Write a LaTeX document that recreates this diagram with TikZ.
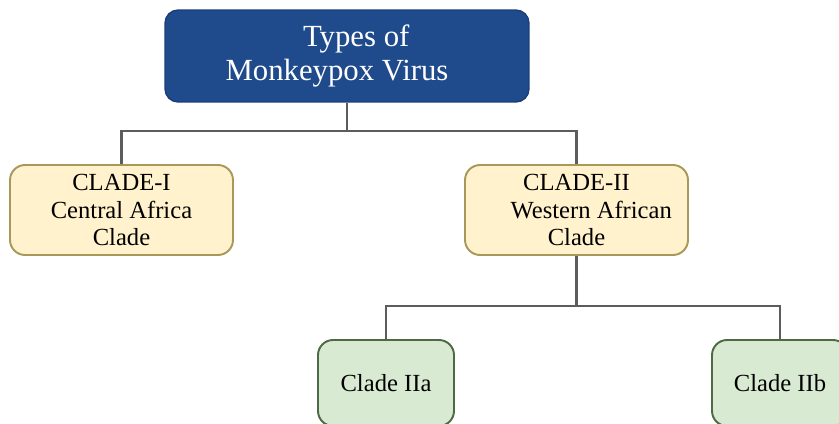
\documentclass[tikz,border=0pt]{standalone}
\usepackage{fontspec}
\setmainfont{Liberation Serif}
\usetikzlibrary{positioning}

\definecolor{topblue}{HTML}{1F4A8C}
\definecolor{topedge}{HTML}{1A3F78}
\definecolor{cladefill}{HTML}{FFF2CC}
\definecolor{cladeedge}{HTML}{A8985A}
\definecolor{subfill}{HTML}{D9EAD3}
\definecolor{subedge}{HTML}{4E6A45}
\definecolor{linkgray}{HTML}{5C5C5C}

\begin{document}
\begin{tikzpicture}[
    x=0.02cm, y=-0.02cm,
    root/.style={rectangle, draw=topedge, fill=topblue, text=white, line width=0.8pt, minimum width=7.28cm, minimum height=1.84cm, rounded corners=0.26cm, align=center, font=\fontsize{17.5}{19.8}\selectfont},
    clade/.style={rectangle, draw=cladeedge, fill=cladefill, line width=1.1pt, minimum width=4.46cm, minimum height=1.8cm, rounded corners=0.3cm, align=center, font=\fontsize{14}{15.6}\selectfont},
    subclade/.style={rectangle, draw=subedge, fill=subfill, line width=1.1pt, minimum width=2.72cm, minimum height=1.72cm, rounded corners=0.3cm, align=center, font=\fontsize{14}{15.6}\selectfont},
    link/.style={draw=linkgray, line width=1.2pt}
]
    \useasboundingbox (0,0) rectangle (839,423);
    \clip (0,0) rectangle (839,423);

    \node[root] (types) at (347,56) {\hspace*{0.6em}Types of\\Monkeypox Virus\hspace*{0.65em}};
    \node[clade] (cladeone) at (121.5,210) {CLADE-I\\Central Africa\\Clade};
    \node[clade] (cladetwo) at (576.5,210) {CLADE-II\\\hspace*{1.2em}Western African\\Clade};
    \node[subclade] (twoa) at (386,383) {Clade IIa};
    \node[subclade] (twob) at (780,383) {Clade IIb};

    \coordinate (topjoin) at (347,131);
    \coordinate (twojoin) at (576.5,306);

    \draw[link] (types.south) -- (topjoin) -| (cladeone.north);
    \draw[link] (topjoin) -| (cladetwo.north);
    \draw[link] (cladetwo.south) -- (twojoin) -| (twoa.north);
    \draw[link] (twojoin) -| (twob.north);
\end{tikzpicture}
\end{document}
